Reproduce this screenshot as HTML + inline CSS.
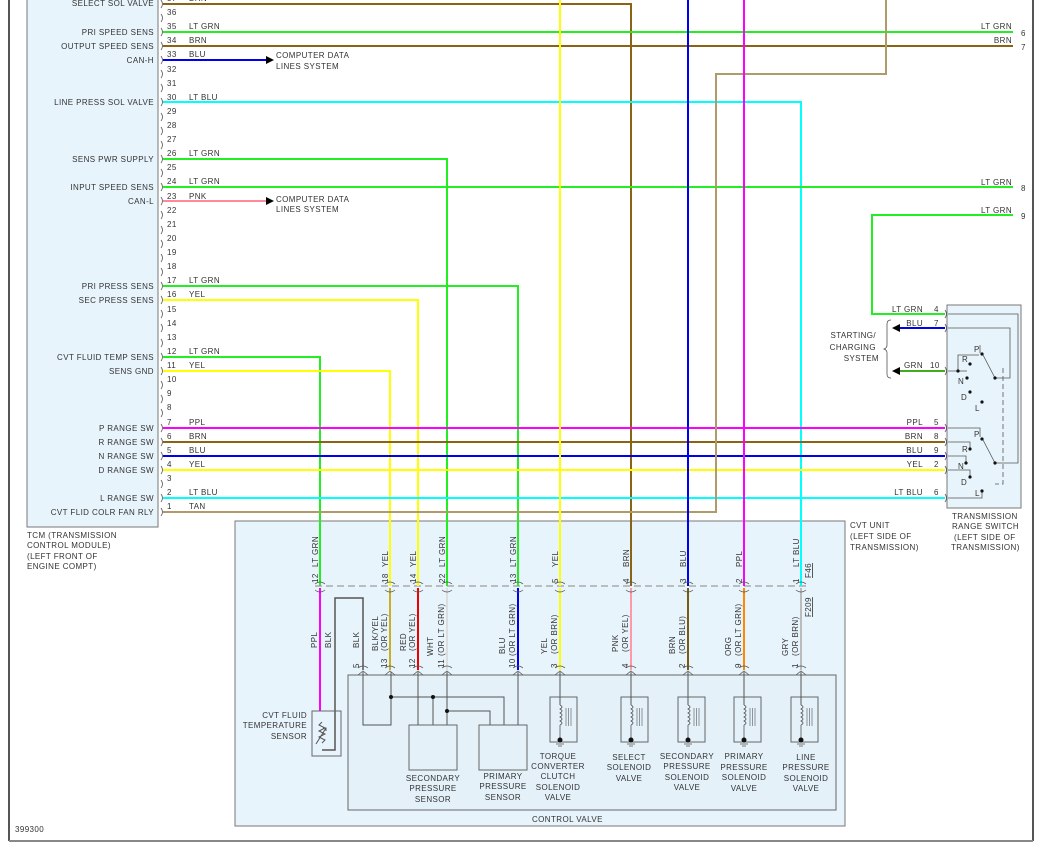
<!DOCTYPE html>
<html><head><meta charset="utf-8"><style>
html,body{margin:0;padding:0;background:#fff}
svg{display:block}
text{font-family:"Liberation Sans",sans-serif;font-size:8px;fill:#333;letter-spacing:0.4px}
</style></head><body>
<svg width="1038" height="848" viewBox="0 0 1038 848" xmlns="http://www.w3.org/2000/svg">
<line x1="9" y1="0" x2="9" y2="841" stroke="#555" stroke-width="2"/>
<line x1="1033" y1="0" x2="1033" y2="841" stroke="#555" stroke-width="2"/>
<line x1="9" y1="841" x2="1033" y2="841" stroke="#888" stroke-width="2"/>
<rect x="27" y="-2" width="131" height="529" fill="#e8f4fb" stroke="#777" stroke-width="1"/>
<text x="27" y="538">TCM (TRANSMISSION</text>
<text x="27" y="548">CONTROL MODULE)</text>
<text x="27" y="559">(LEFT FRONT OF</text>
<text x="27" y="569">ENGINE COMPT)</text>
<text x="15" y="832">399300</text>

<rect x="235" y="521" width="610" height="305" fill="#e8f4fb" stroke="#777"/>
<text x="850" y="528">CVT UNIT</text>
<text x="850" y="539">(LEFT SIDE OF</text>
<text x="850" y="550">TRANSMISSION)</text>
<rect x="348" y="675" width="488" height="135" fill="#e4f1f9" stroke="#666"/>
<text x="532" y="822">CONTROL VALVE</text>
<line x1="315" y1="586" x2="806" y2="586" stroke="#aaa" stroke-width="1.5" stroke-dasharray="7,4"/>

<rect x="947" y="305" width="74" height="203" fill="#e8f4fb" stroke="#777"/>
<text x="952" y="519">TRANSMISSION</text>
<text x="952" y="529">RANGE SWITCH</text>
<text x="954" y="540">(LEFT SIDE OF</text>
<text x="951" y="550">TRANSMISSION)</text>

<g fill="none" stroke="#555" stroke-width="0.8">
<path d="M161 0 q3 4 0 8 M161 14 q3 4 0 8 M161 28 q3 4 0 8 M161 42 q3 4 0 8 M161 56 q3 4 0 8 M161 70 q3 4 0 8 M161 84 q3 4 0 8 M161 98 q3 4 0 8 M161 113 q3 4 0 8 M161 127 q3 4 0 8 M161 141 q3 4 0 8 M161 155 q3 4 0 8 M161 169 q3 4 0 8 M161 183 q3 4 0 8 M161 197 q3 4 0 8 M161 211 q3 4 0 8 M161 226 q3 4 0 8 M161 240 q3 4 0 8 M161 254 q3 4 0 8 M161 268 q3 4 0 8 M161 282 q3 4 0 8 M161 296 q3 4 0 8 M161 310 q3 4 0 8 M161 324 q3 4 0 8 M161 339 q3 4 0 8 M161 353 q3 4 0 8 M161 367 q3 4 0 8 M161 381 q3 4 0 8 M161 395 q3 4 0 8 M161 409 q3 4 0 8 M161 424 q3 4 0 8 M161 438 q3 4 0 8 M161 452 q3 4 0 8 M161 466 q3 4 0 8 M161 480 q3 4 0 8 M161 494 q3 4 0 8 M161 508 q3 4 0 8"/>
</g>
<g>
<text x="167" y="1">37</text><text x="167" y="15">36</text><text x="167" y="29">35</text><text x="167" y="43">34</text><text x="167" y="57">33</text><text x="167" y="72">32</text><text x="167" y="86">31</text><text x="167" y="100">30</text><text x="167" y="114">29</text><text x="167" y="128">28</text><text x="167" y="142">27</text><text x="167" y="156">26</text><text x="167" y="170">25</text><text x="167" y="184">24</text><text x="167" y="199">23</text><text x="167" y="213">22</text><text x="167" y="227">21</text><text x="167" y="241">20</text><text x="167" y="255">19</text><text x="167" y="269">18</text><text x="167" y="283">17</text><text x="167" y="297">16</text><text x="167" y="312">15</text><text x="167" y="326">14</text><text x="167" y="340">13</text><text x="167" y="354">12</text><text x="167" y="368">11</text><text x="167" y="382">10</text><text x="167" y="396">9</text><text x="167" y="410">8</text><text x="167" y="425">7</text><text x="167" y="439">6</text><text x="167" y="453">5</text><text x="167" y="467">4</text><text x="167" y="481">3</text><text x="167" y="495">2</text><text x="167" y="509">1</text>
</g>
<g text-anchor="end">
<text x="154" y="6">SELECT SOL VALVE</text>
<text x="154" y="35">PRI SPEED SENS</text>
<text x="154" y="49">OUTPUT SPEED SENS</text>
<text x="154" y="63">CAN-H</text>
<text x="154" y="105">LINE PRESS SOL VALVE</text>
<text x="154" y="162">SENS PWR SUPPLY</text>
<text x="154" y="190">INPUT SPEED SENS</text>
<text x="154" y="204">CAN-L</text>
<text x="154" y="289">PRI PRESS SENS</text>
<text x="154" y="303">SEC PRESS SENS</text>
<text x="154" y="360">CVT FLUID TEMP SENS</text>
<text x="154" y="374">SENS GND</text>
<text x="154" y="431">P RANGE SW</text>
<text x="154" y="445">R RANGE SW</text>
<text x="154" y="459">N RANGE SW</text>
<text x="154" y="473">D RANGE SW</text>
<text x="154" y="501">L RANGE SW</text>
<text x="154" y="515">CVT FLID COLR FAN RLY</text>
</g>
<g>
<text x="189" y="1">BRN</text>
<text x="189" y="29">LT GRN</text><text x="189" y="43">BRN</text><text x="189" y="57">BLU</text>
<text x="189" y="100">LT BLU</text><text x="189" y="156">LT GRN</text><text x="189" y="184">LT GRN</text><text x="189" y="199">PNK</text>
<text x="189" y="283">LT GRN</text><text x="189" y="297">YEL</text><text x="189" y="354">LT GRN</text><text x="189" y="368">YEL</text>
<text x="189" y="425">PPL</text><text x="189" y="439">BRN</text><text x="189" y="453">BLU</text><text x="189" y="467">YEL</text>
<text x="189" y="495">LT BLU</text><text x="189" y="509">TAN</text>
</g>

<g fill="none" stroke-width="2">
<polyline points="163,4 631,4 631,586" stroke="#8a6414"/>
<line x1="163" y1="32" x2="1013" y2="32" stroke="#22ee22"/>
<line x1="163" y1="46" x2="1013" y2="46" stroke="#8a6414"/>
<line x1="163" y1="60" x2="268" y2="60" stroke="#0000ee"/>
<polyline points="163,102 801,102 801,586" stroke="#00ffff"/>
<polyline points="163,159 447,159 447,586" stroke="#22ee22"/>
<line x1="163" y1="187" x2="1013" y2="187" stroke="#22ee22"/>
<line x1="163" y1="201" x2="268" y2="201" stroke="#ff8899"/>
<polyline points="163,286 518,286 518,586" stroke="#22ee22"/>
<polyline points="163,300 418,300 418,586" stroke="#ffff00"/>
<polyline points="163,357 320,357 320,586" stroke="#22ee22"/>
<polyline points="163,371 390,371 390,586" stroke="#ffff00"/>
<line x1="163" y1="428" x2="945" y2="428" stroke="#ff00ff"/>
<line x1="163" y1="442" x2="945" y2="442" stroke="#8a6414"/>
<line x1="163" y1="456" x2="945" y2="456" stroke="#0000ee"/>
<line x1="163" y1="470" x2="945" y2="470" stroke="#ffff00"/>
<line x1="163" y1="498" x2="945" y2="498" stroke="#00ffff"/>
<polyline points="163,512 716,512 716,74 886,74 886,0" stroke="#b09a6a"/>
<line x1="560" y1="0" x2="560" y2="586" stroke="#ffff00"/>
<line x1="688" y1="0" x2="688" y2="586" stroke="#0000ee"/>
<line x1="744" y1="0" x2="744" y2="586" stroke="#ff00ff"/>
<polyline points="1013,215 872,215 872,314 945,314" stroke="#22ee22"/>
<line x1="900" y1="328" x2="945" y2="328" stroke="#0000ee"/>
<line x1="900" y1="371" x2="945" y2="371" stroke="#44aa22"/>
<line x1="320" y1="588" x2="320" y2="711" stroke="#ff00ff"/>
<line x1="390" y1="588" x2="390" y2="670" stroke="#c8b020"/>
<line x1="418" y1="588" x2="418" y2="670" stroke="#ee0000"/>
<line x1="447" y1="588" x2="447" y2="670" stroke="#dddddd"/>
<line x1="518" y1="588" x2="518" y2="670" stroke="#0000ee"/>
<line x1="560" y1="588" x2="560" y2="670" stroke="#ffff00"/>
<line x1="631" y1="588" x2="631" y2="670" stroke="#ff99aa"/>
<line x1="688" y1="588" x2="688" y2="670" stroke="#7a5a10"/>
<line x1="744" y1="588" x2="744" y2="670" stroke="#ff8800"/>
<line x1="801" y1="588" x2="801" y2="670" stroke="#bbbbbb"/>
</g>
<polyline points="363,670 363,598 335,598 335,750 322,750" fill="none" stroke="#555" stroke-width="1.5"/>
<polygon points="266,56 274,60 266,64" fill="#000"/>
<polygon points="266,197 274,201 266,205" fill="#000"/>
<text x="276" y="58">COMPUTER DATA</text><text x="276" y="69">LINES SYSTEM</text>
<text x="276" y="202">COMPUTER DATA</text><text x="276" y="212">LINES SYSTEM</text>
<g text-anchor="end">
<text x="1012" y="29">LT GRN</text><text x="1012" y="43">BRN</text><text x="1012" y="185">LT GRN</text><text x="1012" y="213">LT GRN</text>
<text x="923" y="312">LT GRN</text><text x="923" y="326">BLU</text><text x="923" y="368">GRN</text>
<text x="923" y="425">PPL</text><text x="923" y="439">BRN</text><text x="923" y="453">BLU</text><text x="923" y="467">YEL</text><text x="923" y="495">LT BLU</text>
<text x="876" y="338">STARTING/</text><text x="876" y="350">CHARGING</text><text x="879" y="361">SYSTEM</text>
</g>
<text x="1021" y="36">6</text><text x="1021" y="50">7</text><text x="1021" y="191">8</text><text x="1021" y="219">9</text>
<g><text x="934" y="312">4</text><text x="934" y="326">7</text><text x="930" y="368">10</text><text x="934" y="425">5</text><text x="934" y="439">8</text><text x="934" y="453">9</text><text x="934" y="467">2</text><text x="934" y="495">6</text></g>
<polygon points="900,324 892,328 900,332" fill="#000"/>
<polygon points="900,367 892,371 900,375" fill="#000"/>
<path d="M891 320 q-4 0 -4 4 v21 q0 3 -3 4 q3 1 3 4 v21 q0 4 4 4" fill="none" stroke="#555" stroke-width="0.8"/>
<g fill="none" stroke="#555" stroke-width="0.8">
<path d="M945 310 q3 4 0 8 M945 324 q3 4 0 8 M945 367 q3 4 0 8 M945 424 q3 4 0 8 M945 438 q3 4 0 8 M945 452 q3 4 0 8 M945 466 q3 4 0 8 M945 494 q3 4 0 8"/>
<polyline points="948,314 1018,314 1018,463 995,463"/>
<polyline points="948,328 1010,328 1010,378 995,378"/>
<polyline points="979,355 958,355 958,371 948,371"/>
<line x1="958" y1="371" x2="967" y2="371"/>
<line x1="982" y1="353" x2="995" y2="378"/>
<line x1="982" y1="438" x2="995" y2="463"/>
<line x1="980" y1="353" x2="980" y2="345"/>
<polyline points="948,428 980,428 980,437"/>
<polyline points="948,442 970,442 970,450"/>
<polyline points="948,456 966,456 966,463"/>
<polyline points="948,470 970,470 970,478"/>
<polyline points="948,498 982,498 982,491"/>
<polyline points="1003,368 1003,484 995,484" stroke-dasharray="5,3"/>
</g>
<g fill="#111">
<circle cx="982" cy="354" r="1.6"/><circle cx="970" cy="364" r="1.6"/><circle cx="967" cy="378" r="1.6"/><circle cx="958" cy="371" r="1.6"/><circle cx="970" cy="392" r="1.6"/><circle cx="982" cy="402" r="1.6"/><circle cx="995" cy="378" r="1.6"/>
<circle cx="982" cy="439" r="1.6"/><circle cx="970" cy="449" r="1.6"/><circle cx="966" cy="463" r="1.6"/><circle cx="970" cy="477" r="1.6"/><circle cx="982" cy="491" r="1.6"/><circle cx="995" cy="463" r="1.6"/>
</g>
<g><text x="974" y="352">P</text><text x="962" y="362">R</text><text x="958" y="384">N</text><text x="961" y="400">D</text><text x="975" y="411">L</text>
<text x="974" y="437">P</text><text x="962" y="452">R</text><text x="958" y="469">N</text><text x="961" y="485">D</text><text x="975" y="496">L</text></g>

<g fill="none" stroke="#555" stroke-width="0.8">
<path d="M315 584 q5 -4 10 0 M315 590 q5 4 10 0 M385 584 q5 -4 10 0 M385 590 q5 4 10 0 M413 584 q5 -4 10 0 M413 590 q5 4 10 0 M442 584 q5 -4 10 0 M442 590 q5 4 10 0 M513 584 q5 -4 10 0 M513 590 q5 4 10 0 M555 584 q5 -4 10 0 M555 590 q5 4 10 0 M626 584 q5 -4 10 0 M626 590 q5 4 10 0 M683 584 q5 -4 10 0 M683 590 q5 4 10 0 M739 584 q5 -4 10 0 M739 590 q5 4 10 0 M796 584 q5 -4 10 0 M796 590 q5 4 10 0"/>
<path d="M358 668 q5 -4 10 0 M358 675 l5 -4 l5 4 M385 668 q5 -4 10 0 M385 675 l5 -4 l5 4 M413 668 q5 -4 10 0 M413 675 l5 -4 l5 4 M442 668 q5 -4 10 0 M442 675 l5 -4 l5 4 M513 668 q5 -4 10 0 M513 675 l5 -4 l5 4 M555 668 q5 -4 10 0 M555 675 l5 -4 l5 4 M626 668 q5 -4 10 0 M626 675 l5 -4 l5 4 M683 668 q5 -4 10 0 M683 675 l5 -4 l5 4 M739 668 q5 -4 10 0 M739 675 l5 -4 l5 4 M796 668 q5 -4 10 0 M796 675 l5 -4 l5 4"/>
</g>
<g fill="none" stroke="#555" stroke-width="1">
<polyline points="363,672 363,725 391,725 391,672"/>
<polyline points="391,697 504,697 504,725"/>
<line x1="433" y1="697" x2="433" y2="725"/>
<line x1="418" y1="672" x2="418" y2="725"/>
<line x1="447" y1="672" x2="447" y2="725"/>
<polyline points="447,711 490,711 490,725"/>
<line x1="518" y1="672" x2="518" y2="725"/>
<rect x="409" y="725" width="48" height="45" stroke="#666"/>
<rect x="479" y="725" width="48" height="45" stroke="#666"/>
<rect x="312" y="711" width="29" height="45" stroke="#666"/>
<path d="M322 722 l-3 3 l6 3 l-6 3 l6 3 l-6 3 l6 3 l-3 3 M316 744 l10 -16 M323 728 l3 0 l0 3"/>
</g>
<g fill="#111"><circle cx="391" cy="697" r="2"/><circle cx="433" cy="697" r="2"/><circle cx="447" cy="711" r="2"/></g>
<g fill="none" stroke="#555">
<g id="sol"><rect x="550" y="697" width="27" height="45" stroke="#666" stroke-width="1"/><line x1="560" y1="672" x2="560" y2="705" stroke-width="1"/><path d="M560 705 q4 2 0 4 q4 2 0 4 q4 2 0 4 q4 2 0 4 q4 2 0 4 M560 725 v14" stroke-width="0.8"/><path d="M566 708 v18 M568.5 708 v18 M571 708 v18" stroke-width="0.6"/><path d="M556 744 h8 M558 746 h4" stroke-width="0.8"/></g>
<use href="#sol" x="71"/><use href="#sol" x="128"/><use href="#sol" x="184"/><use href="#sol" x="241"/>
</g>
<g fill="#111"><circle cx="560" cy="740" r="2.5"/><circle cx="631" cy="740" r="2.5"/><circle cx="688" cy="740" r="2.5"/><circle cx="744" cy="740" r="2.5"/><circle cx="801" cy="740" r="2.5"/></g>
<g text-anchor="middle">
<text x="433" y="781">SECONDARY</text><text x="433" y="791">PRESSURE</text><text x="433" y="802">SENSOR</text>
<text x="503" y="779">PRIMARY</text><text x="503" y="789">PRESSURE</text><text x="503" y="800">SENSOR</text>
<text x="558" y="759">TORQUE</text><text x="558" y="769">CONVERTER</text><text x="558" y="779">CLUTCH</text><text x="558" y="790">SOLENOID</text><text x="558" y="800">VALVE</text>
<text x="629" y="760">SELECT</text><text x="629" y="770">SOLENOID</text><text x="629" y="781">VALVE</text>
<text x="687" y="759">SECONDARY</text><text x="687" y="769">PRESSURE</text><text x="687" y="780">SOLENOID</text><text x="687" y="790">VALVE</text>
<text x="744" y="759">PRIMARY</text><text x="744" y="770">PRESSURE</text><text x="744" y="780">SOLENOID</text><text x="744" y="791">VALVE</text>
<text x="806" y="760">LINE</text><text x="806" y="770">PRESSURE</text><text x="806" y="781">SOLENOID</text><text x="806" y="791">VALVE</text>
</g>
<g text-anchor="end">
<text x="307" y="718">CVT FLUID</text><text x="307" y="728">TEMPERATURE</text><text x="307" y="739">SENSOR</text>
</g>
<g>
<text transform="translate(318,583) rotate(-90)">12</text><text transform="translate(318,567) rotate(-90)">LT GRN</text>
<text transform="translate(388,583) rotate(-90)">18</text><text transform="translate(388,567) rotate(-90)">YEL</text>
<text transform="translate(416,583) rotate(-90)">14</text><text transform="translate(416,567) rotate(-90)">YEL</text>
<text transform="translate(445,583) rotate(-90)">22</text><text transform="translate(445,567) rotate(-90)">LT GRN</text>
<text transform="translate(516,583) rotate(-90)">13</text><text transform="translate(516,567) rotate(-90)">LT GRN</text>
<text transform="translate(558,583) rotate(-90)">5</text><text transform="translate(558,567) rotate(-90)">YEL</text>
<text transform="translate(629,583) rotate(-90)">4</text><text transform="translate(629,567) rotate(-90)">BRN</text>
<text transform="translate(686,583) rotate(-90)">3</text><text transform="translate(686,567) rotate(-90)">BLU</text>
<text transform="translate(742,583) rotate(-90)">2</text><text transform="translate(742,567) rotate(-90)">PPL</text>
<text transform="translate(799,583) rotate(-90)">1</text><text transform="translate(799,567) rotate(-90)">LT BLU</text>
<text transform="translate(811,578) rotate(-90)" style="text-decoration:underline">F46</text>
<text transform="translate(811,617) rotate(-90)" style="text-decoration:underline">F209</text>
</g>
<g>
<text transform="translate(317,648) rotate(-90)">PPL</text>
<text transform="translate(331,648) rotate(-90)">BLK</text>
<text transform="translate(359,648) rotate(-90)">BLK</text><text transform="translate(359,668) rotate(-90)">5</text>
<text transform="translate(378,651) rotate(-90)">BLK/YEL</text><text transform="translate(387,651) rotate(-90)">(OR YEL)</text><text transform="translate(387,668) rotate(-90)">13</text>
<text transform="translate(406,651) rotate(-90)">RED</text><text transform="translate(415,651) rotate(-90)">(OR YEL)</text><text transform="translate(415,668) rotate(-90)">12</text>
<text transform="translate(433,656) rotate(-90)">WHT</text><text transform="translate(444,656) rotate(-90)">(OR LT GRN)</text><text transform="translate(444,668) rotate(-90)">11</text>
<text transform="translate(505,654) rotate(-90)">BLU</text><text transform="translate(515,656) rotate(-90)">(OR LT GRN)</text><text transform="translate(515,668) rotate(-90)">10</text>
<text transform="translate(547,654) rotate(-90)">YEL</text><text transform="translate(557,654) rotate(-90)">(OR BRN)</text><text transform="translate(557,668) rotate(-90)">3</text>
<text transform="translate(618,652) rotate(-90)">PNK</text><text transform="translate(628,652) rotate(-90)">(OR YEL)</text><text transform="translate(628,668) rotate(-90)">4</text>
<text transform="translate(675,654) rotate(-90)">BRN</text><text transform="translate(685,654) rotate(-90)">(OR BLU)</text><text transform="translate(685,668) rotate(-90)">2</text>
<text transform="translate(731,656) rotate(-90)">ORG</text><text transform="translate(741,656) rotate(-90)">(OR LT GRN)</text><text transform="translate(741,668) rotate(-90)">9</text>
<text transform="translate(788,656) rotate(-90)">GRY</text><text transform="translate(798,656) rotate(-90)">(OR BRN)</text><text transform="translate(798,668) rotate(-90)">1</text>
</g>
</svg>
</body></html>
